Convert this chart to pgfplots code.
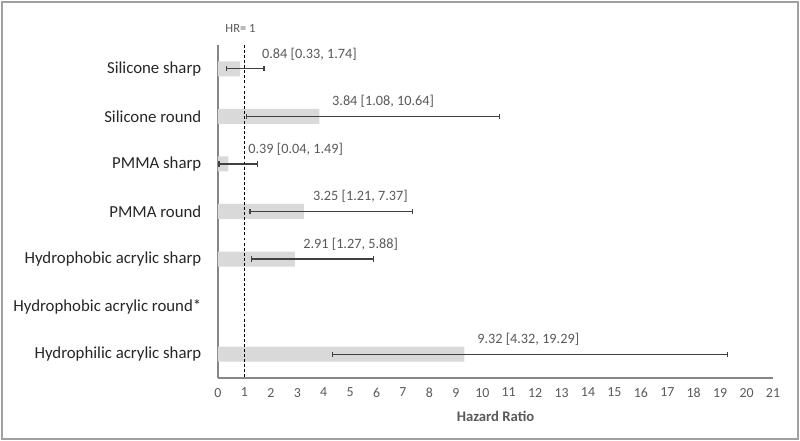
\documentclass[border=0pt]{standalone}
\usepackage{fontspec}
\setmainfont{Carlito}
\usepackage{pgfplots}
\pgfplotsset{compat=1.18}
\definecolor{barfill}{HTML}{D9D9D9}
\definecolor{errc}{HTML}{404040}
\definecolor{txtgray}{HTML}{595959}
\definecolor{axgray}{HTML}{868686}
\definecolor{framec}{HTML}{A0A0A0}
\begin{document}
\begin{tikzpicture}
\useasboundingbox (0,0) rectangle (600pt,330.75pt);
\draw[framec, line width=1.8pt] (1.5pt,1.5pt) rectangle (598.5pt,329.25pt);
\begin{axis}[
  at={(163.5pt,47.25pt)}, anchor=south west,
  scale only axis, width=416.25pt, height=249.75pt,
  xmin=0, xmax=21, ymin=-0.5, ymax=6.5,
  xbar, bar width=11.25pt,
  axis lines=left, axis line style={axgray, line width=0.8pt, -},
  major tick length=0pt,
  xtick={0,1,...,21}, ytick={0,1,...,6},
  yticklabels={Hydrophilic acrylic sharp, Hydrophobic acrylic round*, Hydrophobic acrylic sharp, PMMA round, PMMA sharp, Silicone round, Silicone sharp},
  yticklabel style={font=\fontsize{12.6}{14}\selectfont, text=black!85, xshift=-9pt},
  xticklabel style={font=\fontsize{10.4}{12}\selectfont, text=txtgray, yshift=-4pt},
  /pgf/number format/assume math mode=true,
  clip=false,
]
\addplot[fill=barfill, draw=none,
  error bars/.cd, x dir=both, x explicit,
  error bar style={errc, line width=0.9pt},
  error mark options={errc, line width=0.9pt, mark size=2pt, rotate=90}]
  coordinates {
  (0.84,6) -= (0.51,0) += (0.90,0)
  (3.84,5) -= (2.76,0) += (6.80,0)
  (0.39,4) -= (0.35,0) += (1.10,0)
  (3.25,3) -= (2.04,0) += (4.12,0)
  (2.91,2) -= (1.64,0) += (2.97,0)
  (9.32,0) -= (5.00,0) += (9.97,0)
  };
\draw[black, line width=1pt, dash pattern=on 2.2pt off 1.6pt] (axis cs:1,6.5) -- (axis cs:1,-0.5);
\node[font=\fontsize{9.4}{11}\selectfont, text=txtgray, anchor=south] at ([yshift=6pt]axis cs:0.85,6.5) {HR= 1};
\begin{scope}[every node/.style={font=\fontsize{10.7}{12}\selectfont, text=txtgray, anchor=west, inner sep=0pt}]
\node at (axis cs:1.66,6.31) {0.84 [0.33, 1.74]};
\node at (axis cs:4.31,5.31) {3.84 [1.08, 10.64]};
\node at (axis cs:1.14,4.31) {0.39 [0.04, 1.49]};
\node at (axis cs:3.59,3.31) {3.25 [1.21, 7.37]};
\node at (axis cs:3.22,2.31) {2.91 [1.27, 5.88]};
\node at (axis cs:9.80,0.31) {9.32 [4.32, 19.29]};
\end{scope}
\node[font=\bfseries\fontsize{11}{13}\selectfont, text=txtgray] at ([yshift=-28.5pt]rel axis cs:0.5,0) {Hazard Ratio};
\end{axis}
\end{tikzpicture}
\end{document}
